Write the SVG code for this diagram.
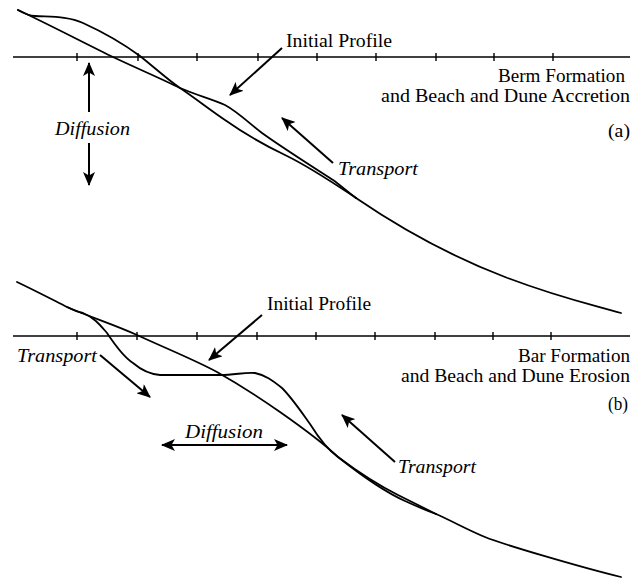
<svg xmlns="http://www.w3.org/2000/svg" width="638" height="583" viewBox="0 0 638 583">
<style>
.ln{fill:none;stroke:#000;stroke-width:1.8;stroke-linejoin:round;stroke-linecap:round}
.ax{fill:none;stroke:#000;stroke-width:1.6}
.tk{stroke:#000;stroke-width:1.4}
.ar{fill:none;stroke:#000;stroke-width:2}
.t{font-family:"Liberation Serif","Times New Roman",serif;font-size:18px;fill:#000}
.i{font-family:"Liberation Serif","Times New Roman",serif;font-size:18px;font-style:italic;fill:#000}
</style>
<defs>
<marker id="ah" viewBox="0 0 14 12" refX="13" refY="6" markerWidth="14" markerHeight="12" markerUnits="userSpaceOnUse" orient="auto-start-reverse">
<path d="M0,0 L14,6 L0,12 L3.5,6 Z" fill="#000"/>
</marker>
</defs>
<rect width="638" height="583" fill="#fff"/>

<g id="panel-a">
<g id="axis-a">
<line class="ax" x1="13" y1="57" x2="630" y2="57"/>
<path class="tk" d="M77,53V61M138,53V61M197,53V61M258,53V61M317,53V61M376,53V61M436,53V61M494,53V61M553,53V61"/>
</g>
<g id="profiles-a">
<path class="ln" d="M18,10 C50,25 90,46 113,57 S160,78 180,88 C196,95 212,99 225,105 C238,112 250,124 262,133 C280,146 305,162 333,180 C340,185 348,192 356,198"/>
<path class="ln" d="M18,10 C25,14 30,16 35,16 C50,17 68,16 83,23 C105,33 125,45 140,56 C155,68 168,80 180,88 C195,98 210,110 225,120 C242,132 262,144 285,155 C310,167 335,184 356,198"/>
<path class="ln" d="M356,198 C400,228 450,256 505,277 S590,304 621,313"/>
</g>
<g id="labels-a">
<text class="t" x="286" y="47" textLength="106" lengthAdjust="spacingAndGlyphs">Initial Profile</text>
<text class="t" x="498" y="82" textLength="127" lengthAdjust="spacingAndGlyphs">Berm Formation</text>
<text class="t" x="381" y="102" textLength="249" lengthAdjust="spacingAndGlyphs">and Beach and Dune Accretion</text>
<text class="t" x="608" y="137" textLength="22" lengthAdjust="spacingAndGlyphs">(a)</text>
<text class="i" x="55" y="135" textLength="75" lengthAdjust="spacingAndGlyphs">Diffusion</text>
<text class="i" x="338" y="175" textLength="80" lengthAdjust="spacingAndGlyphs">Transport</text>
</g>
</g>

<g id="panel-b">
<g id="axis-b">
<line class="ax" x1="13" y1="336" x2="630" y2="336"/>
<path class="tk" d="M77,332V340M137,332V340M197,332V340M257,332V340M316,332V340M375,332V340M435,332V340M493,332V340M551,332V340"/>
</g>
<g id="profiles-b">
<path class="ln" d="M17,282 C40,293 55,301 67,307 C90,317 115,325 137,335 C165,348 195,360 217,372 C240,385 260,398 280,412 C300,426 320,440 338,457 C362,476 385,492 405,501 C418,507 428,511 436,514"/>
<path class="ln" d="M67,307 C73,310 78,312 83,313 C95,318 100,325 107,333 C115,345 125,358 133,363 C140,369 148,374 160,375 L220,375 C235,375 245,372 255,373 C265,375 272,380 282,388 C292,398 300,410 310,424 C320,440 328,450 338,457 C358,472 378,485 398,495 C414,503 426,509 436,514"/>
<path class="ln" d="M436,514 C452,521 468,530 485,537 S580,567 621,577"/>
</g>
<g id="labels-b">
<text class="t" x="267" y="310" textLength="104" lengthAdjust="spacingAndGlyphs">Initial Profile</text>
<text class="t" x="518" y="362" textLength="112" lengthAdjust="spacingAndGlyphs">Bar Formation</text>
<text class="t" x="401" y="382" textLength="229" lengthAdjust="spacingAndGlyphs">and Beach and Dune Erosion</text>
<text class="t" x="608" y="410" textLength="20" lengthAdjust="spacingAndGlyphs">(b)</text>
<text class="i" x="17" y="362" textLength="80" lengthAdjust="spacingAndGlyphs">Transport</text>
<text class="i" x="185" y="438" textLength="78" lengthAdjust="spacingAndGlyphs">Diffusion</text>
<text class="i" x="398" y="473" textLength="78" lengthAdjust="spacingAndGlyphs">Transport</text>
</g>
</g>

<g id="connectors">
<line class="ar" x1="282" y1="48" x2="230" y2="95" marker-end="url(#ah)"/>
<line class="ar" x1="333" y1="163" x2="282" y2="118" marker-end="url(#ah)"/>
<line class="ar" x1="89" y1="112" x2="89" y2="63" marker-end="url(#ah)"/>
<line class="ar" x1="89" y1="143" x2="89" y2="185" marker-end="url(#ah)"/>
<line class="ar" x1="262" y1="315" x2="209" y2="360" marker-end="url(#ah)"/>
<line class="ar" x1="100" y1="355" x2="150" y2="397" marker-end="url(#ah)"/>
<line class="ar" x1="395" y1="462" x2="342" y2="415" marker-end="url(#ah)"/>
<line class="ar" x1="162" y1="445" x2="287" y2="445" marker-start="url(#ah)" marker-end="url(#ah)"/>
</g>
</svg>
